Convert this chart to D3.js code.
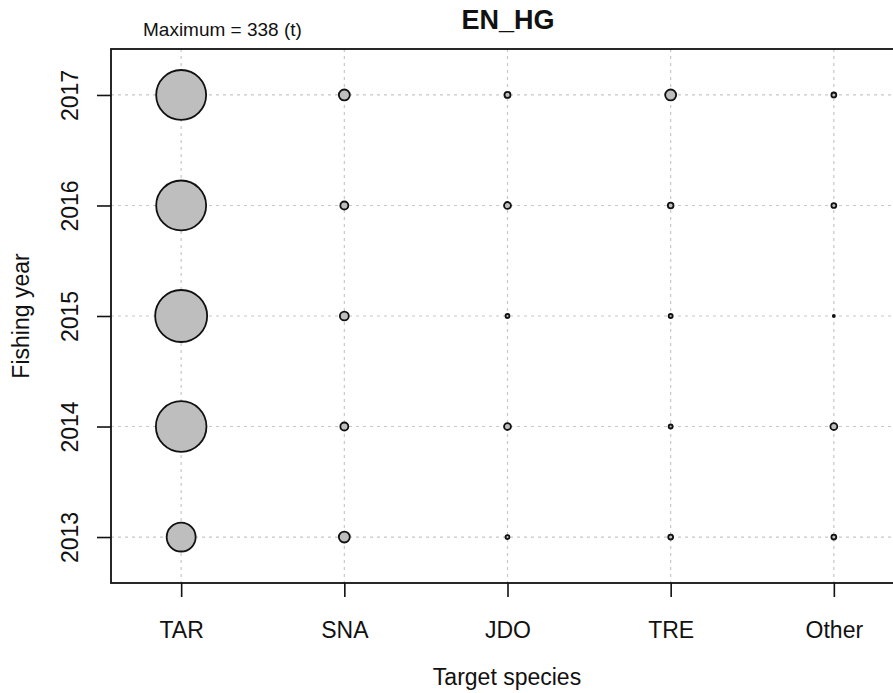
<!DOCTYPE html>
<html>
<head>
<meta charset="utf-8">
<script src="https://cdn.jsdelivr.net/npm/d3@7"></script>
<style>
  body { margin: 0; background: #fff; }
  svg { display: block; font-family: "Liberation Sans", Arial, sans-serif; }
</style>
</head>
<body>
<svg width="893" height="693"></svg>
<script>
const species = ["TAR", "SNA", "JDO", "TRE", "Other"];
const years = [2013, 2014, 2015, 2016, 2017];

// catch (t) per species, one value per year (2013..2017)
const TAR = [105, 320, 338, 312, 312];
const SNA = [15, 8, 10, 8, 15];
const JDO = [2, 6, 2, 6, 4.5];
const TRE = [3, 2, 2, 4, 15];
const Other = [3, 6, 0.5, 3, 3];

const maxCatch = 338;

const seriesBySpecies = { TAR, SNA, JDO, TRE, Other };

const svg = d3.select("svg");

const plotLeft = 111, plotRight = 904, plotTop = 49, plotBottom = 583;
const ink = "#111";

const x = d3.scalePoint().domain(species).range([plotLeft, plotRight]).padding(0.43);
const y = d3.scalePoint().domain(years.slice().reverse()).range([plotTop, plotBottom]).padding(0.416);
const r = d3.scaleSqrt().domain([0, maxCatch]).range([0, 26]);

const cells = [];
species.forEach((s) => {
  years.forEach((yr, i) => {
    cells.push({ species: s, year: yr, value: seriesBySpecies[s][i] });
  });
});

// grid
const grid = svg.append("g").attr("stroke", "#c8c8c8").attr("stroke-width", 1.2).attr("stroke-dasharray", "3,4");
grid.selectAll("line.v").data(species).enter().append("line")
  .attr("x1", (d) => x(d)).attr("x2", (d) => x(d))
  .attr("y1", plotTop).attr("y2", plotBottom);
grid.selectAll("line.h").data(years).enter().append("line")
  .attr("x1", plotLeft).attr("x2", plotRight)
  .attr("y1", (d) => y(d)).attr("y2", (d) => y(d));

// bubbles
svg.append("g").selectAll("circle").data(cells).enter().append("circle")
  .attr("cx", (d) => x(d.species))
  .attr("cy", (d) => y(d.year))
  .attr("r", (d) => r(d.value))
  .attr("fill", "#bebebe")
  .attr("stroke", ink)
  .attr("stroke-width", 1.8);

// box
svg.append("rect")
  .attr("x", plotLeft).attr("y", plotTop)
  .attr("width", plotRight - plotLeft).attr("height", plotBottom - plotTop)
  .attr("fill", "none").attr("stroke", ink).attr("stroke-width", 1.8);

// axes
const xAxis = svg.append("g")
  .attr("transform", `translate(0,${plotBottom})`)
  .call(d3.axisBottom(x).tickSize(14).tickPadding(0));
xAxis.select(".domain").remove();
xAxis.selectAll("line").attr("stroke", ink).attr("stroke-width", 1.6);
xAxis.selectAll("text")
  .attr("font-size", 23).attr("fill", ink)
  .attr("font-family", "Liberation Sans, Arial, sans-serif")
  .attr("y", 55).attr("dy", 0);

const yAxis = svg.append("g")
  .attr("transform", `translate(${plotLeft},0)`)
  .call(d3.axisLeft(y).tickSize(14).tickPadding(0));
yAxis.select(".domain").remove();
yAxis.selectAll("line").attr("stroke", ink).attr("stroke-width", 1.6);
yAxis.selectAll("text")
  .attr("font-size", 23).attr("fill", ink)
  .attr("font-family", "Liberation Sans, Arial, sans-serif")
  .attr("text-anchor", "middle")
  .attr("x", 0).attr("y", 0).attr("dy", 0)
  .attr("transform", "translate(-33,0) rotate(-90)");

// labels
svg.append("text")
  .attr("x", 507).attr("y", 685)
  .attr("text-anchor", "middle").attr("font-size", 23).attr("fill", ink)
  .text("Target species");

svg.append("text")
  .attr("transform", `translate(29,${(plotTop + plotBottom) / 2}) rotate(-90)`)
  .attr("text-anchor", "middle").attr("font-size", 23).attr("fill", ink)
  .text("Fishing year");

svg.append("text")
  .attr("x", 508).attr("y", 29)
  .attr("text-anchor", "middle").attr("font-size", 27).attr("font-weight", "bold").attr("fill", ink)
  .text("EN_HG");

svg.append("text")
  .attr("x", 143).attr("y", 36)
  .attr("font-size", 19).attr("fill", ink)
  .text(`Maximum = ${maxCatch} (t)`);
</script>
</body>
</html>
